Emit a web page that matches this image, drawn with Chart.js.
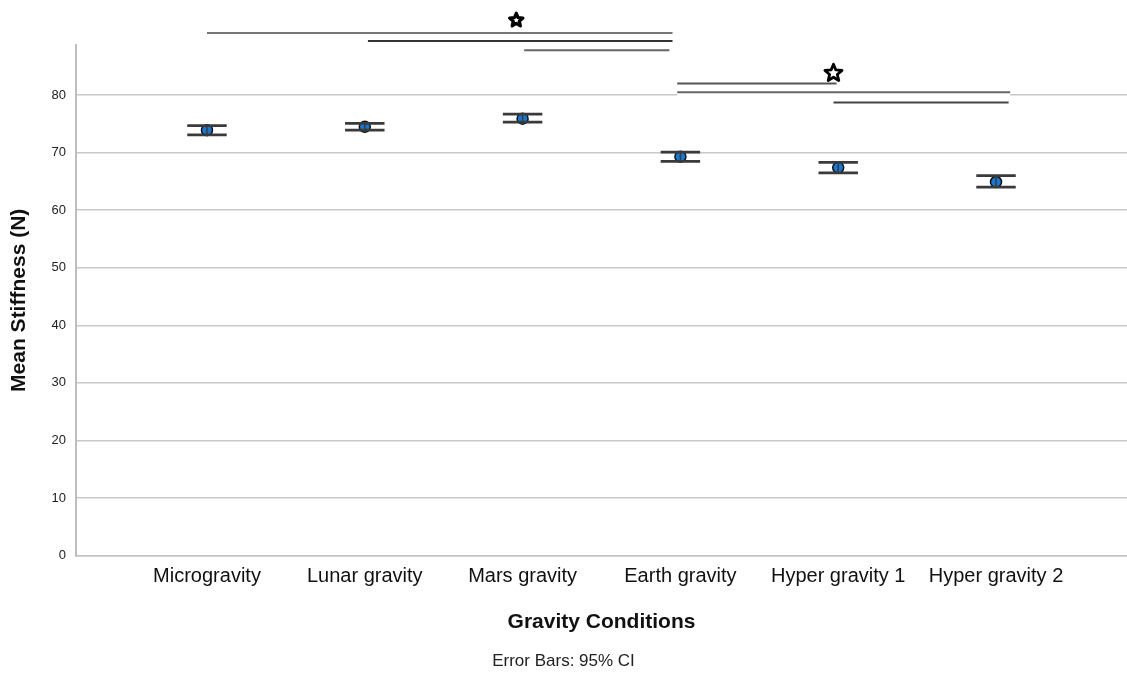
<!DOCTYPE html>
<html>
<head>
<meta charset="utf-8">
<script src="https://cdn.jsdelivr.net/npm/chart.js@4"></script>
<style>
  html, body { margin: 0; padding: 0; background: #fff; }
  #wrap { width: 1127px; height: 673px; }
</style>
</head>
<body>
<div id="wrap"><canvas id="myChart"></canvas></div>
<script>
// data
var conditions = ['Microgravity', 'Lunar gravity', 'Mars gravity', 'Earth gravity', 'Hyper gravity 1', 'Hyper gravity 2'];
var meanStiffness = [73.9, 74.5, 75.9, 69.3, 67.4, 64.9];
var ciLower = [73.1, 73.9, 75.3, 68.5, 66.5, 64.0];
var ciUpper = [74.7, 75.1, 76.7, 70.1, 68.3, 66.0];
var yTicks = [0, 10, 20, 30, 40, 50, 60, 70, 80];

// significance brackets: [from category, to category, stiffness level]
var sigLines = [
    [0.0, 2.95, 90.8],
    [1.02, 2.95, 89.4],
    [2.01, 2.93, 87.8],
    [2.98, 3.99, 82.0],
    [2.98, 5.09, 80.5],
    [3.97, 5.08, 78.7]
];
// stars: [category, level]
var sigStars = [
    [1.96, 93.0],
    [3.97, 83.8]
];

var points = conditions.map(function(c, i) { return { x: i, y: meanStiffness[i] }; });

// error bars + significance marks
var extras = {
    id: 'extras',
    afterDatasetsDraw: function(chart) {
        var ctx = chart.ctx, xs = chart.scales.x, ys = chart.scales.y;
        ctx.save();
        for (var i = 0; i < conditions.length; i++) {
            var x = xs.getPixelForValue(i);
            var xl = xs.getPixelForValue(i - 0.125), xr = xs.getPixelForValue(i + 0.125);
            var yl = ys.getPixelForValue(ciLower[i]), yu = ys.getPixelForValue(ciUpper[i]);
            ctx.strokeStyle = '#3a3a3a';
            ctx.lineWidth = 2.8;
            ctx.beginPath();
            ctx.moveTo(xl, yl); ctx.lineTo(xr, yl);
            ctx.moveTo(xl, yu); ctx.lineTo(xr, yu);
            ctx.stroke();
            ctx.lineWidth = 1.5;
            ctx.beginPath();
            ctx.moveTo(x, yl); ctx.lineTo(x, yu);
            ctx.stroke();
        }
        ctx.restore();
    },
    afterDraw: function(chart) {
        var ctx = chart.ctx, xs = chart.scales.x, ys = chart.scales.y;
        var colors = ['#777', '#333', '#666', '#555', '#666', '#444'];
        ctx.save();
        // white band hides the 80 gridline under the long bracket
        var b = sigLines[4];
        var bx0 = xs.getPixelForValue(b[0]), bx1 = xs.getPixelForValue(b[1]);
        ctx.fillStyle = '#fff';
        ctx.fillRect(bx0, ys.getPixelForValue(b[2]), bx1 - bx0, ys.getPixelForValue(80) - ys.getPixelForValue(b[2]) + 2);
        sigLines.forEach(function(l, i) {
            ctx.strokeStyle = colors[i];
            ctx.lineWidth = 2;
            ctx.beginPath();
            ctx.moveTo(xs.getPixelForValue(l[0]), ys.getPixelForValue(l[2]));
            ctx.lineTo(xs.getPixelForValue(l[1]), ys.getPixelForValue(l[2]));
            ctx.stroke();
        });
        var sizes = [7, 9];
        sigStars.forEach(function(s, k) {
            var cx = xs.getPixelForValue(s[0]), cy = ys.getPixelForValue(s[1]);
            var R = sizes[k], r = R * 0.45;
            ctx.beginPath();
            for (var j = 0; j < 10; j++) {
                var a = -Math.PI / 2 + j * Math.PI / 5;
                var rad = j % 2 ? r : R;
                var px = cx + rad * Math.cos(a), py = cy + rad * Math.sin(a);
                if (j == 0) ctx.moveTo(px, py); else ctx.lineTo(px, py);
            }
            ctx.closePath();
            ctx.fillStyle = '#fff';
            ctx.fill();
            ctx.strokeStyle = '#000';
            ctx.lineWidth = k == 0 ? 3.2 : 2.8;
            ctx.lineJoin = 'round';
            ctx.stroke();
        });
        ctx.restore();
    }
};

var ctx = document.getElementById('myChart').getContext('2d');
var myChart = new Chart(ctx, {
    type: 'scatter',
    data: {
        datasets: [{
            label: 'Mean Stiffness',
            data: points,
            backgroundColor: '#1578d6',
            borderColor: '#111',
            borderWidth: 1.5,
            pointRadius: 5.5,
            pointHoverRadius: 5.5
        }]
    },
    options: {
        responsive: true,
        maintainAspectRatio: false,
        animation: false,
        layout: { autoPadding: false, padding: { top: 45, left: 0, right: 0, bottom: 0 } },
        plugins: {
            legend: { display: false },
            tooltip: { enabled: false },
            subtitle: {
                display: true,
                position: 'bottom',
                text: 'Error Bars: 95% CI',
                color: '#222',
                font: { family: 'Liberation Sans, Arial, sans-serif', size: 17, weight: 'normal' },
                padding: { top: 5, bottom: 1 }
            }
        },
        scales: {
            x: {
                type: 'linear',
                min: -0.83,
                max: 5.83,
                afterBuildTicks: function(s) { s.ticks = conditions.map(function(c, i) { return { value: i }; }); },
                afterFit: function(s) { s.height = 91; s.paddingLeft = 0; s.paddingRight = 0; },
                grid: { display: false, drawTicks: false },
                border: { display: true, color: '#c4c4c4', width: 1.5 },
                ticks: {
                    padding: 9,
                    color: '#111',
                    font: { family: 'Liberation Sans, Arial, sans-serif', size: 20 },
                    callback: function(v) { return conditions[v]; }
                },
                title: {
                    display: true,
                    text: 'Gravity Conditions',
                    color: '#111',
                    font: { family: 'Liberation Sans, Arial, sans-serif', size: 21, weight: 'bold' },
                    padding: { top: 0, bottom: 12 }
                }
            },
            y: {
                min: 0,
                max: 88.7,
                afterBuildTicks: function(s) { s.ticks = yTicks.map(function(v) { return { value: v }; }); },
                afterFit: function(s) { s.width = 76; },
                grid: { color: '#c8c8c8', lineWidth: 1.5, drawTicks: false },
                border: { display: true, color: '#bdbdbd', width: 2 },
                ticks: {
                    padding: 10,
                    color: '#222',
                    font: { family: 'Liberation Sans, Arial, sans-serif', size: 13 }
                },
                title: {
                    display: true,
                    text: 'Mean Stiffness (N)',
                    color: '#111',
                    font: { family: 'Liberation Sans, Arial, sans-serif', size: 21, weight: 'bold' },
                    padding: { top: 7, bottom: 0 }
                }
            }
        }
    },
    plugins: [extras]
});
</script>
</body>
</html>
